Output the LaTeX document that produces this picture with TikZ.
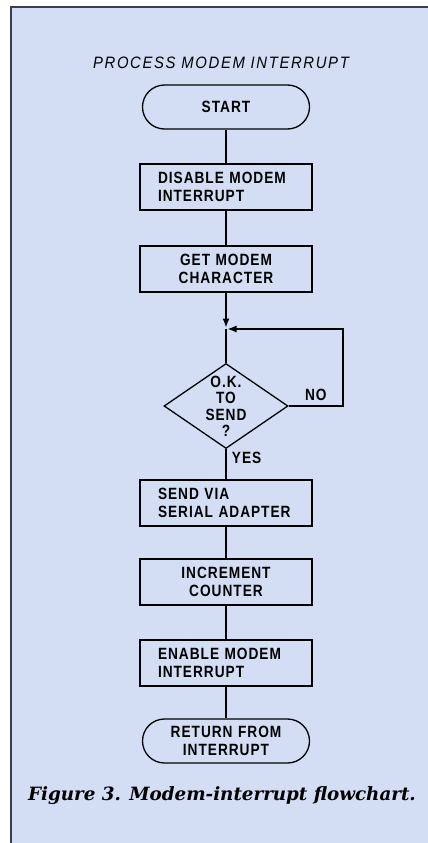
\documentclass[tikz,border=0pt]{standalone}
\usepackage{fontspec}
\newfontfamily\letterfont[LetterSpace=6, FakeStretch=0.84]{Liberation Sans}
\newfontfamily\titlefont[LetterSpace=10, FakeStretch=0.9]{Liberation Sans}
\newfontfamily\captionfont{DejaVu Serif}
\usepackage{tikz}
\usetikzlibrary{arrows.meta,shapes.geometric}
\definecolor{paperblue}{RGB}{211,222,245}
\definecolor{framegray}{RGB}{58,62,72}

\begin{document}
\begin{tikzpicture}[x=1pt, y=1pt,
  stepbox/.style={draw, line width=1.3pt, minimum height=46pt,
                  text width=136pt, inner xsep=18pt,
                  font=\letterfont\bfseries\fontsize{16.3}{17.5}\selectfont},
  termbox/.style={stepbox, text width=131pt, minimum height=44pt,
                  rounded corners=22pt, align=center},
  testbox/.style={draw, diamond, line width=1.3pt, minimum width=124pt,
                  minimum height=85pt, inner sep=0pt,
                  font=\letterfont\bfseries\fontsize{16.3}{15.8}\selectfont},
  flowline/.style={line width=1.3pt},
  flowarrow/.style={flowline, -{Latex[length=9pt,width=7pt]}, shorten >=1.5pt},
  branch/.style={font=\letterfont\bfseries\fontsize{16.3}{17.5}\selectfont}
]
  \path[use as bounding box] (0,0) rectangle (428,-843);
  \fill[paperblue] (10,-7) rectangle (428,-843);
  \draw[framegray, line width=2pt] (10.5,-843) |- (428,-7.5);

  \node[font=\titlefont\itshape\fontsize{16.5}{18}\selectfont]
    (title) at (221,-63) {PROCESS MODEM INTERRUPT};

  \node[termbox] (start) at (226,-107) {START};
  \node[stepbox, align=left] (disable) at (226,-187) {DISABLE MODEM\\INTERRUPT};
  \node[stepbox, align=center] (getchar) at (226,-269) {GET MODEM\\CHARACTER};
  \coordinate (join) at (226,-329);
  \node[testbox] (oksend) at (226,-406)
    {\smash{\raisebox{-7pt}{\begin{tabular}{@{}c@{}}O.K.\\TO\\SEND\\?\end{tabular}}}};
  \coordinate (loopright) at (343,-406);
  \node[stepbox, align=left] (send) at (226,-503) {SEND VIA\\SERIAL ADAPTER};
  \node[stepbox, align=center] (incr) at (226,-582) {INCREMENT\\COUNTER};
  \node[stepbox, align=left] (enable) at (226,-663) {ENABLE MODEM\\INTERRUPT};
  \node[termbox] (return) at (226,-741) {RETURN FROM\\INTERRUPT};

  \draw[flowline] (start.south) -- (disable.north);
  \draw[flowline] (disable.south) -- (getchar.north);
  \draw[flowarrow] (getchar.south) -- (join);
  \draw[flowline] (join) -- (oksend.north);
  \draw[flowarrow] (oksend.east) -- (loopright)
    node[branch, pos=0.5, above=1pt] {NO} |- (join);
  \draw[flowline] (oksend.south) -- (send.north)
    node[branch, pos=0.3, right=2pt] {YES};
  \draw[flowline] (send.south) -- (incr.north);
  \draw[flowline] (incr.south) -- (enable.north);
  \draw[flowline] (enable.south) -- (return.north);

  \node[font=\captionfont\bfseries\itshape\fontsize{18.3}{22}\selectfont]
    (caption) at (222,-796) {Figure 3. Modem-interrupt flowchart.};
\end{tikzpicture}
\end{document}
